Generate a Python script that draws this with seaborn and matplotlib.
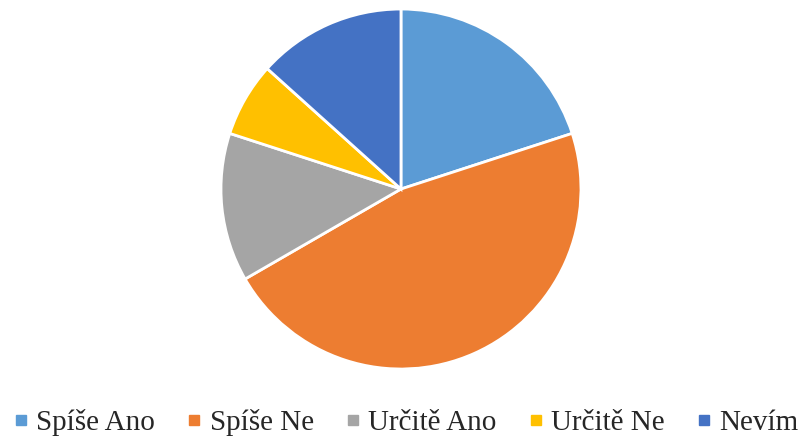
import matplotlib
matplotlib.use("Agg")
import matplotlib.pyplot as plt
from matplotlib.lines import Line2D
import seaborn as sns

categories = ["Spíše Ano", "Spíše Ne", "Určitě Ano", "Určitě Ne", "Nevím"]
counts = [3, 7, 2, 1, 2]
colors = ["#5B9BD5", "#ED7D31", "#A5A5A5", "#FFC000", "#4472C4"]

sns.set_theme(style="white")
plt.rcParams['font.family'] = ['Liberation Serif', 'DejaVu Serif']

fig = plt.figure(figsize=(8.03, 4.38), dpi=100)
ax = fig.add_axes([0.2752, 0.1575, 0.4483, 0.8219])

ax.pie(counts, colors=sns.color_palette(colors), startangle=90, counterclock=False,
       wedgeprops=dict(edgecolor="white", linewidth=2))
ax.set_xlim(-1, 1)
ax.set_ylim(-1, 1)
ax.set_aspect("equal")

handles = [Line2D([0], [0], marker="s", linestyle="", markersize=7,
                  markerfacecolor=c, markeredgecolor=c) for c in colors]
fig.legend(handles, categories, loc="lower center", bbox_to_anchor=(0.507, -0.043),
           ncol=5, frameon=False, fontsize=21, handlelength=0.35,
           handletextpad=0.35, columnspacing=1.17, borderpad=0.2)

fig.savefig("out.png", dpi=100)
